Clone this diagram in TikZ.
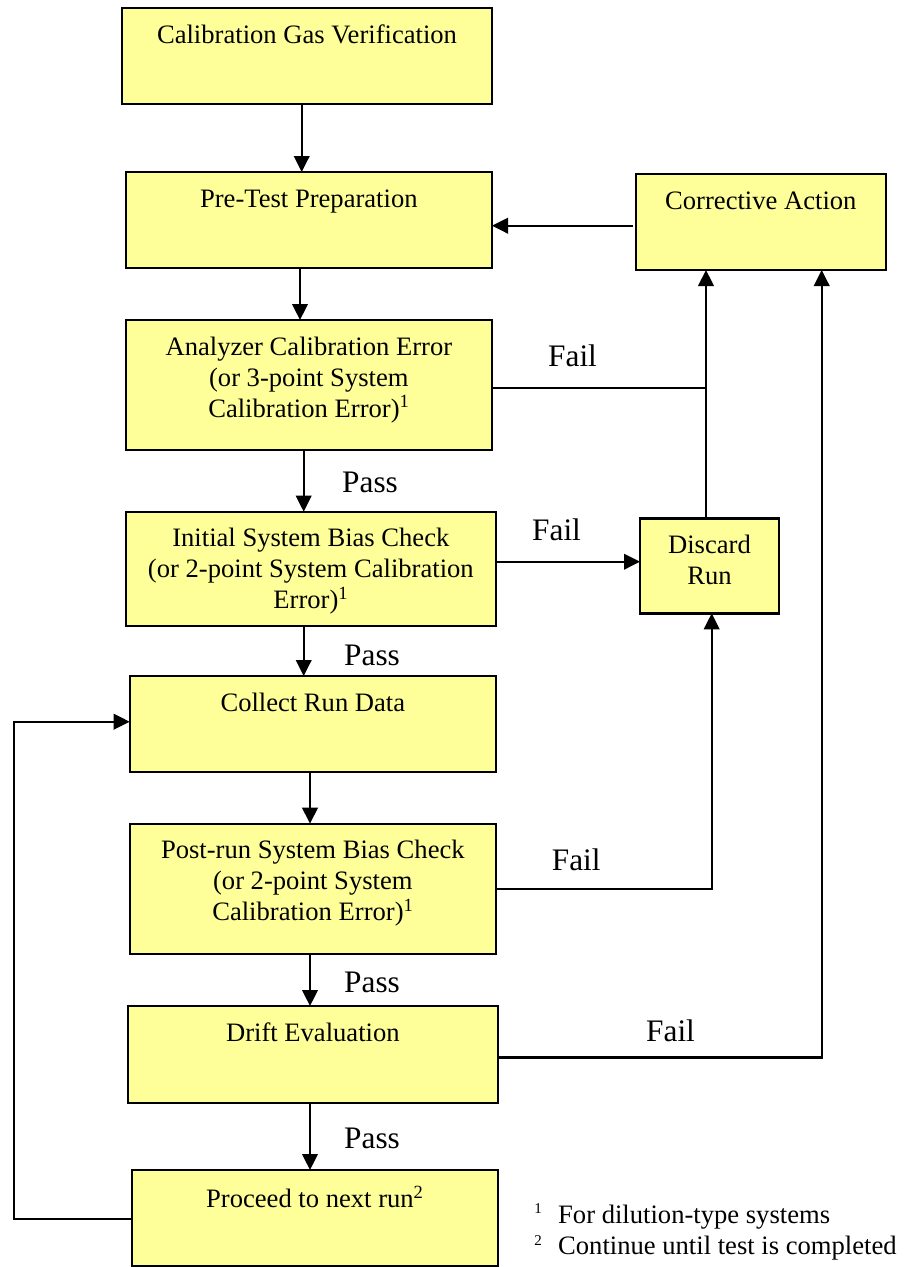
\documentclass[tikz,border=0pt]{standalone}
\usepackage{fontspec}
\setmainfont{Liberation Serif}
\usetikzlibrary{arrows.meta}
\definecolor{boxfill}{HTML}{FFFF99}
\newcommand\flowtxt[3]{\parbox[c][#2pt][t]{#1pt}{\centering\vspace*{16.5pt}\rule{0pt}{18.5pt}#3}}
\begin{document}
\begin{tikzpicture}[x=1pt,y=-1pt,
  box/.style={draw, fill=boxfill, line width=2.4pt, inner sep=0pt, outer sep=0pt, anchor=north west, font=\fontsize{26.6}{31}\selectfont},
  arr/.style={line width=2.3pt, -{Triangle[length=16pt,width=15.5pt]}},
  ln/.style={line width=2.3pt},
  lbl/.style={font=\fontsize{31.3}{36}\selectfont, anchor=base west, inner sep=0pt},
  fn/.style={font=\fontsize{26.6}{31}\selectfont, anchor=base west, inner sep=0pt},
  supnum/.style={font=\fontsize{15}{15}\selectfont, anchor=base, inner sep=0pt}]
\useasboundingbox (0,0) rectangle (905,1267);

% boxes
\node[box] (cgv) at (122,8) {\flowtxt{370}{96}{Calibration Gas Verification}};
\node[box] (pre) at (125.7,172) {\flowtxt{366.3}{96}{Pre-Test Preparation}};
\node[box] (ca) at (635.7,174) {\flowtxt{250.3}{96}{Corrective Action}};
\node[box] (ace) at (125.7,320) {\flowtxt{366.3}{130}{Analyzer Calibration Error\\(or 3-point System\\Calibration Error)\textsuperscript{1}}};
\node[box] (isb) at (125.7,511.7) {\flowtxt{370.3}{114.3}{Initial System Bias Check\\(or 2-point System Calibration\\Error)\textsuperscript{1}}};
\node[box] (dr) at (640,518.3) {\flowtxt{139}{95}{Discard\\Run}};
\node[box] (crd) at (129.7,676) {\flowtxt{366.3}{96}{Collect Run Data}};
\node[box] (psb) at (129.7,823.7) {\flowtxt{366.3}{130.3}{Post-run System Bias Check\\(or 2-point System\\Calibration Error)\textsuperscript{1}}};
\node[box] (de) at (127.7,1006) {\flowtxt{370.3}{96.7}{Drift Evaluation}};
\node[box] (pnr) at (131.7,1170) {\flowtxt{366.3}{96}{Proceed to next run\textsuperscript{2}}};

% helper coordinates
\coordinate (k1) at (301.7,0);
\coordinate (k2) at (300,0);
\coordinate (k3) at (303.7,0);
\coordinate (k4) at (310,0);
\coordinate (h1) at (632.7,225.7);
\coordinate (h2) at (0,387.7);
\coordinate (h3) at (0,561.7);
\coordinate (h4) at (0,889.3);
\coordinate (h5) at (0,1057.5);
\coordinate (h6) at (0,1219);
\coordinate (h7) at (0,721.7);
\coordinate (j1) at (706,0);
\coordinate (j2) at (711.7,0);
\coordinate (j3) at (821.7,0);
\coordinate (j4) at (13.7,0);

% main flow
\draw[arr] (cgv.south -| k1) -- (pre.north -| k1);
\draw[arr] (pre.south -| k2) -- (ace.north -| k2);
\draw[arr] (ace.south -| k3) -- (isb.north -| k3);
\draw[arr] (isb.south -| k3) -- (crd.north -| k3);
\draw[arr] (crd.south -| k4) -- (psb.north -| k4);
\draw[arr] (psb.south -| k4) -- (de.north -| k4);
\draw[arr] (de.south -| k4) -- (pnr.north -| k4);

% corrective
\draw[arr] (h1) -- (pre.east |- h1);
\draw[ln] (ace.east |- h2) -- (j1 |- h2);
\draw[arr] (dr.north -| j1) -- (ca.south -| j1);
\draw[arr] (isb.east |- h3) -- (dr.west |- h3);
\draw[arr] (psb.east |- h4) -- (j2 |- h4) -- (dr.south -| j2);
\draw[arr] (de.east |- h5) -- (j3 |- h5) -- (ca.south -| j3);
\draw[arr] (pnr.west |- h6) -- (j4 |- h6) -- (j4 |- h7) -- (crd.west |- h7);

% labels
\node[lbl] (f1) at (548,366.7) {Fail};
\node[lbl] (f2) at (532,540) {Fail};
\node[lbl] (f3) at (551.7,870.7) {Fail};
\node[lbl] (f4) at (646,1041.7) {Fail};
\node[lbl] (p1) at (342,492.7) {Pass};
\node[lbl] (p2) at (344,665) {Pass};
\node[lbl] (p3) at (344,992.3) {Pass};
\node[lbl] (p4) at (344,1148.3) {Pass};

% footnotes
\node[supnum] (s1) at (538,1213) {1};
\node[fn] (n1) at (558,1223) {For dilution-type systems};
\node[supnum] (s2) at (538,1245) {2};
\node[fn] (n2) at (558,1254) {Continue until test is completed};
\end{tikzpicture}
\end{document}
